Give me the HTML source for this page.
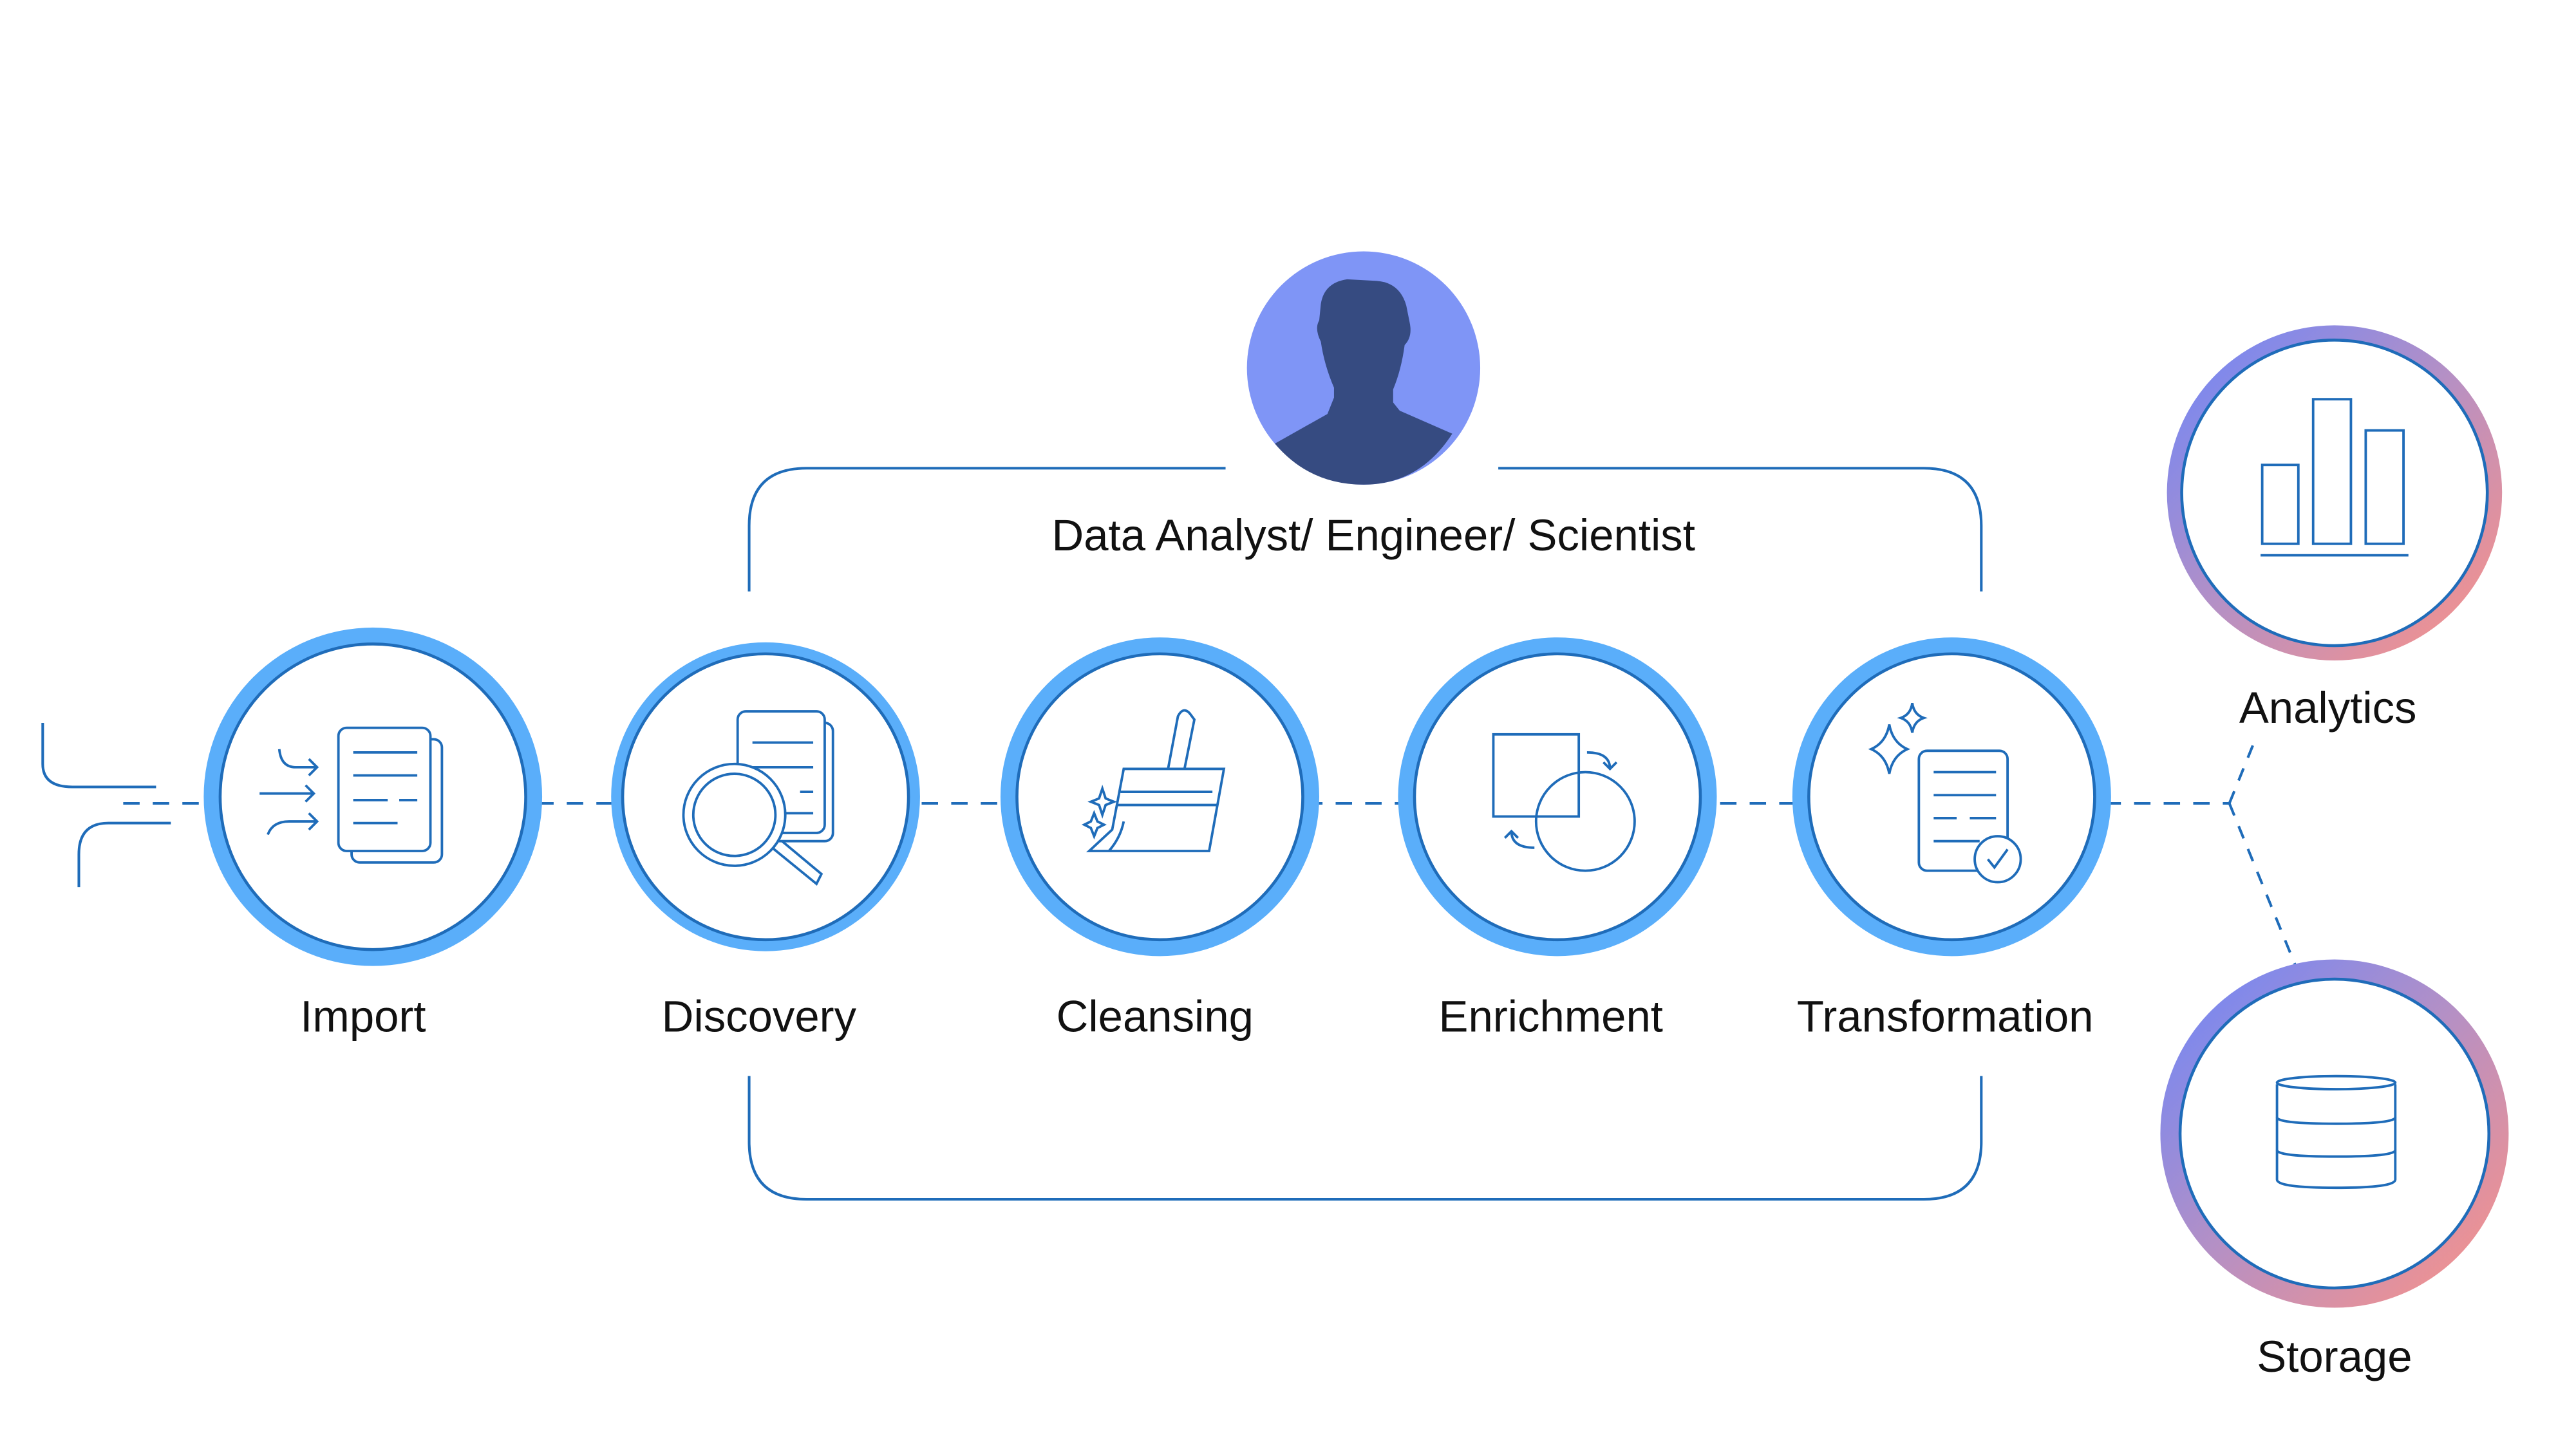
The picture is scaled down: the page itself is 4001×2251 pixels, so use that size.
<!DOCTYPE html>
<html><head><meta charset="utf-8"><style>
html,body{margin:0;padding:0;background:#fff;}
svg{display:block;}
text{font-family:"Liberation Sans",sans-serif;fill:#111;}
</style></head><body>
<svg width="4001" height="2251" viewBox="0 0 1568 882" preserveAspectRatio="none" xmlns="http://www.w3.org/2000/svg">
<defs>
<linearGradient id="g" x1="0" y1="0" x2="1" y2="1">
<stop offset="0" stop-color="#6a86fb"/><stop offset="0.5" stop-color="#b690c4"/><stop offset="1" stop-color="#ff9283"/>
</linearGradient>
</defs>
<g fill="none" stroke="#1f6cb9" stroke-width="1.6">
<path d="M26 440 V465 Q26 479 44 479 H95"/>
<path d="M48 540 V520 Q48 501 66 501 H104"/>
<path d="M75 489 H1357" stroke-dasharray="10 8"/>
<path d="M1357 489 L1372 452" stroke-dasharray="8 7"/>
<path d="M1357 489 L1401 597" stroke-dasharray="8 7"/>
<path d="M456 360 V320 Q456 285 491 285 H746"/>
<path d="M912 285 H1171 Q1206 285 1206 320 V360"/>
<path d="M456 655 V695 Q456 730 491 730 H1171 Q1206 730 1206 695 V655"/>
</g>
<circle cx="830" cy="224" r="71" fill="#7f95f6"/>
<path d="M776 270 L808 252 L812 242 L812 236 Q806 222 804 208 Q800 200 803 195 L804 185 Q806 172 820 170 L838 171 Q852 172 856 186 L858 196 Q860 205 855 210 Q853 225 848 237 L848 245 L852 250 L884 264 Q864 295 830 295 Q797 295 776 270 Z" fill="#364b81"/>
<g stroke="#1f6cb9" stroke-width="1.8">
<circle cx="227" cy="485" r="103" fill="#5aaefa" stroke="none"/><circle cx="227" cy="485" r="93" fill="#fff"/>
<circle cx="466" cy="485" r="94" fill="#5aaefa" stroke="none"/><circle cx="466" cy="485" r="87" fill="#fff"/>
<circle cx="706" cy="485" r="97" fill="#5aaefa" stroke="none"/><circle cx="706" cy="485" r="87" fill="#fff"/>
<circle cx="948" cy="485" r="97" fill="#5aaefa" stroke="none"/><circle cx="948" cy="485" r="87" fill="#fff"/>
<circle cx="1188" cy="485" r="97" fill="#5aaefa" stroke="none"/><circle cx="1188" cy="485" r="87" fill="#fff"/>
<circle cx="1421" cy="300" r="102" fill="url(#g)" stroke="none"/><circle cx="1421" cy="300" r="93" fill="#fff"/>
<circle cx="1421" cy="690" r="106" fill="url(#g)" stroke="none"/><circle cx="1421" cy="690" r="94" fill="#fff"/>
</g>
<g fill="none" stroke="#1f6cb9" stroke-width="1.5">
<rect x="214" y="450" width="55" height="75" rx="5" fill="#fff"/>
<rect x="206" y="443" width="56" height="75" rx="5" fill="#fff"/>
<path d="M215 458H254M215 472H254M215 487H236M243 487H254M215 501H242"/>
<path d="M158 483H191M186 478L191 483L186 488"/>
<path d="M170 456Q171 467 180 467H193M188 462L193 467L188 472"/>
<path d="M163 508Q166 500 176 500H193M188 495L193 500L188 505"/>
<rect x="455" y="440" width="52" height="72" rx="5" fill="#fff"/>
<rect x="449" y="433" width="53" height="74" rx="5" fill="#fff"/>
<path d="M458 452H495M458 467H495M458 482H467M487 482H495M458 495H495"/>
<circle cx="447" cy="496" r="31" fill="#fff"/><circle cx="447" cy="496" r="25"/>
<path d="M470 516L497 538L500 532L476 512"/>
<path d="M711 468L717 436Q720 430 724 434L727 438L721 468"/>
<path d="M663 518L677 505L684 468H745L736 518Z"/>
<path d="M682 482H738M680 490H741M675 518Q682 510 684 500"/>
<path d="M671 480L673 486L678 488L673 490L671 496L669 490L664 488L669 486Z"/>
<path d="M666 495L668 500L672 502L668 504L666 509L664 504L660 502L664 500Z"/>
<rect x="909" y="447" width="52" height="50"/>
<circle cx="965" cy="500" r="30"/>
<path d="M966 458Q980 458 980 468M976 464L980 468L984 464"/>
<path d="M934 516Q920 516 920 506M916 510L920 506L924 510"/>
<rect x="1168" y="457" width="54" height="73" rx="5" fill="#fff"/>
<path d="M1177 470H1215M1177 484H1215M1177 498H1191M1199 498H1215M1177 512H1205"/>
<circle cx="1216" cy="523" r="14" fill="#fff"/>
<path d="M1210 523L1214 528L1222 517"/>
<path d="M1150 441Q1152 452 1161 456Q1152 460 1150 471Q1148 460 1139 456Q1148 452 1150 441Z"/>
<path d="M1164 428Q1165 435 1171 437Q1165 439 1164 446Q1163 439 1157 437Q1163 435 1164 428Z"/>
<rect x="1377" y="283" width="22" height="48"/>
<rect x="1408" y="243" width="23" height="88"/>
<rect x="1440" y="262" width="23" height="69"/>
<path d="M1376 338H1466"/>
<path d="M1386 660V718Q1386 723 1422 723Q1458 723 1458 718V660"/>
<ellipse cx="1422" cy="659" rx="36" ry="4" fill="#fff"/>
<path d="M1386 680Q1386 684 1422 684Q1458 684 1458 680M1386 700Q1386 704 1422 704Q1458 704 1458 700"/>
</g>
<g font-size="27" text-anchor="middle">
<text x="836" y="335">Data Analyst/ Engineer/ Scientist</text>
<text x="221" y="628">Import</text>
<text x="462" y="628">Discovery</text>
<text x="703" y="628">Cleansing</text>
<text x="944" y="628">Enrichment</text>
<text x="1184" y="628">Transformation</text>
<text x="1417" y="440">Analytics</text>
<text x="1421" y="835">Storage</text>
</g>
</svg>
</body></html>
